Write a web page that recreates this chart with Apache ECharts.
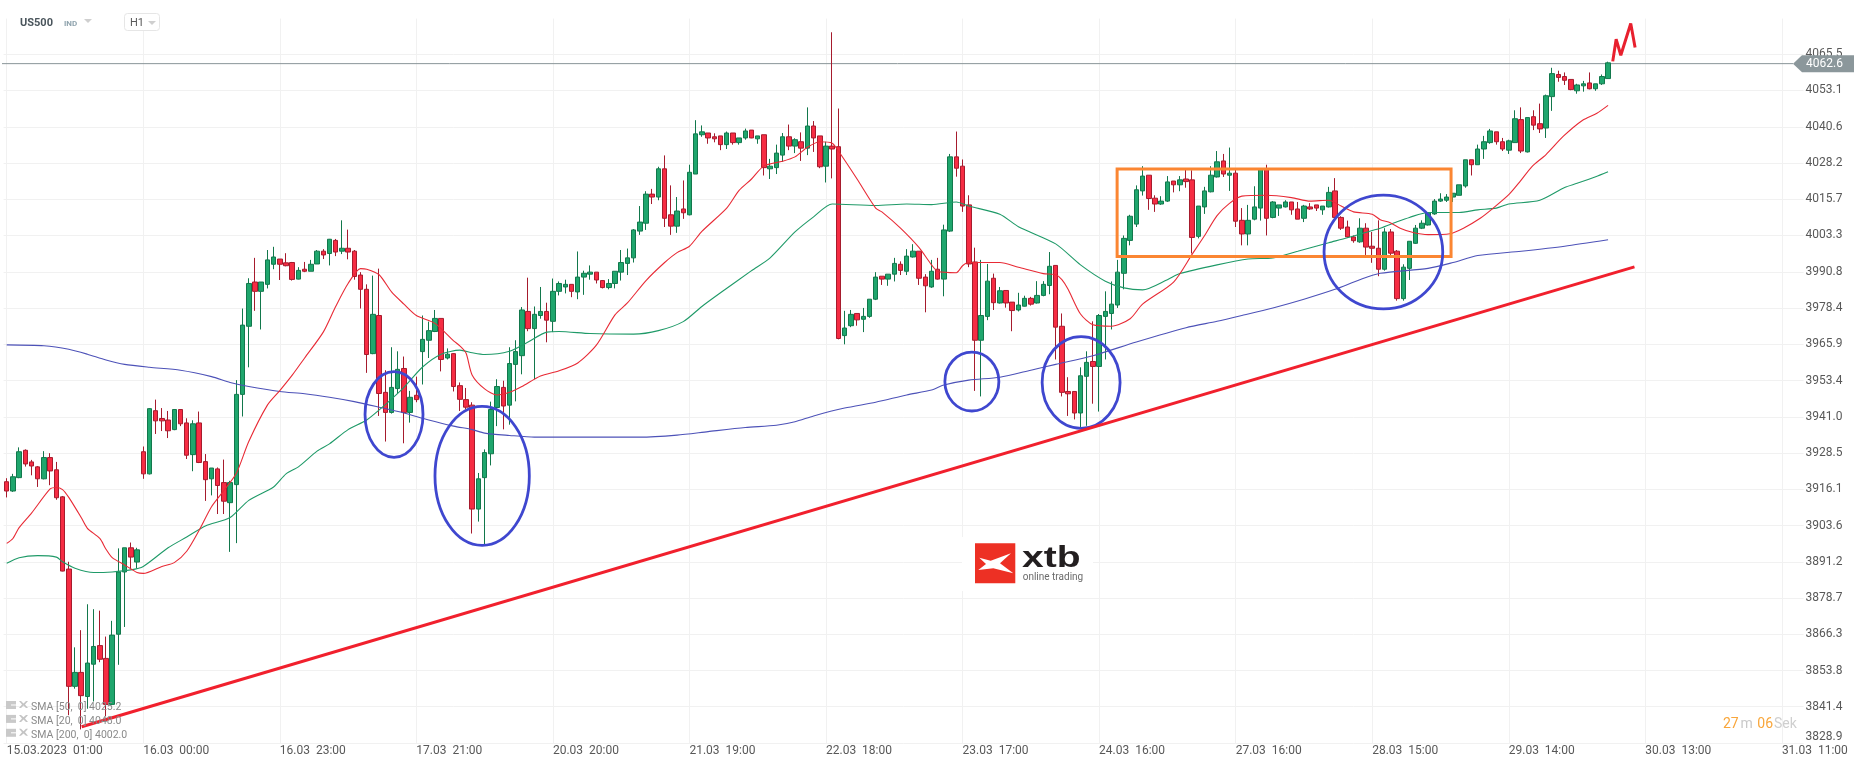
<!DOCTYPE html>
<html><head><meta charset="utf-8"><style>html,body{margin:0;padding:0;background:#fff}#c{width:1866px;height:767px}</style>
<script src="https://cdn.jsdelivr.net/npm/echarts@6/dist/echarts.min.js"></script></head><body><div id="c"></div>
<script>
// open, close, low, high – one row per hourly candle
const candles=[
[3918.7,3915.5,3913.3,3919.9],[3915.5,3920.4,3915.2,3921.4],[3920.1,3929.0,3919.9,3930.5],[3929.5,3924.8,3923.9,3929.8],[3925.5,3924.1,3920.9,3926.2],[3923.8,3919.7,3916.9,3924.1],[3919.7,3927.0,3919.5,3929.2],[3927.0,3922.4,3917.5,3928.5],[3922.8,3913.2,3912.5,3925.5],[3913.5,3888.0,3887.9,3913.8],
[3888.7,3848.4,3838.5,3891.2],[3848.4,3853.2,3847.6,3861.8],[3853.2,3845.2,3833.6,3867.7],[3844.9,3856.4,3840.7,3876.6],[3856.0,3862.1,3843.2,3874.9],[3862.4,3857.7,3856.7,3874.4],[3858.0,3842.2,3838.2,3865.5],[3842.2,3866.0,3841.9,3870.9],[3866.3,3887.7,3855.8,3895.8],[3887.7,3896.0,3868.8,3896.0],
[3896.0,3892.8,3888.7,3897.8],[3891.1,3895.3,3888.9,3896.0],[3929.0,3921.4,3919.7,3930.8],[3921.4,3943.8,3921.2,3944.0],[3943.1,3939.6,3935.1,3946.9],[3940.4,3939.6,3936.1,3944.0],[3939.9,3936.2,3933.7,3943.0],[3936.6,3943.5,3936.4,3943.5],[3943.5,3938.6,3937.8,3943.5],[3938.9,3927.8,3926.5,3940.5],
[3928.0,3938.6,3922.3,3939.8],[3938.9,3925.3,3925.1,3942.8],[3925.6,3919.4,3912.1,3928.2],[3919.7,3923.4,3914.0,3923.4],[3923.1,3917.4,3907.6,3923.6],[3918.4,3912.0,3907.6,3926.3],[3911.5,3918.4,3894.6,3919.0],[3917.7,3948.7,3897.6,3953.6],[3948.7,3972.5,3941.1,3978.2],[3972.1,3986.8,3958.0,3988.6],
[3987.3,3984.1,3977.4,3995.6],[3984.1,3987.3,3971.0,3987.3],[3986.5,3994.9,3985.1,3998.3],[3993.4,3995.9,3991.7,3999.4],[3995.2,3993.4,3988.0,3995.2],[3993.9,3992.9,3992.7,3997.2],[3994.0,3988.2,3987.8,3994.2],[3988.3,3991.3,3988.2,3992.4],[3991.7,3991.0,3990.7,3994.2],[3991.0,3993.4,3991.0,3994.9],
[3993.5,3997.9,3993.5,3998.3],[3997.9,3996.6,3995.2,3998.6],[3997.1,4002.0,3993.0,4002.1],[4001.6,3997.6,3996.2,4002.1],[3997.9,3998.9,3996.9,4008.5],[3998.9,3997.6,3995.1,4005.3],[3997.9,3989.2,3988.1,3998.3],[3989.7,3984.8,3978.2,3990.7],[3984.8,3962.4,3956.1,3986.5],[3962.7,3976.2,3962.5,3989.5],
[3975.8,3949.0,3941.3,3991.9],[3949.4,3942.5,3932.5,3957.0],[3942.5,3951.1,3942.1,3964.9],[3950.7,3957.3,3948.9,3963.5],[3957.6,3942.5,3931.9,3961.7],[3942.5,3947.7,3939.0,3949.9],[3948.4,3946.9,3946.0,3954.8],[3963.4,3967.6,3952.1,3975.8],[3967.3,3970.6,3961.2,3973.7],[3970.3,3974.8,3970.1,3977.7],
[3974.8,3960.7,3956.6,3974.8],[3961.2,3962.5,3960.7,3964.5],[3962.7,3951.4,3949.7,3962.9],[3951.7,3947.0,3943.0,3952.8],[3946.9,3944.3,3943.5,3950.9],[3945.0,3909.3,3900.9,3946.0],[3909.3,3919.7,3905.0,3921.7],[3920.1,3928.7,3896.8,3929.8],[3928.3,3943.5,3924.3,3946.2],[3944.2,3951.4,3937.8,3953.9],
[3951.1,3944.7,3936.7,3953.4],[3945.0,3959.3,3938.3,3964.9],[3959.0,3963.4,3946.3,3967.3],[3962.0,3977.7,3955.6,3978.7],[3977.2,3971.3,3970.4,3988.8],[3971.3,3976.2,3953.9,3978.9],[3975.8,3977.2,3974.7,3985.6],[3977.2,3974.2,3966.6,3980.2],[3973.8,3984.1,3970.1,3988.5],[3984.1,3986.8,3982.7,3987.5],
[3985.6,3986.5,3983.4,3988.1],[3986.5,3984.1,3982.1,3986.5],[3983.9,3989.0,3981.4,3997.8],[3989.0,3990.3,3982.9,3991.2],[3990.0,3990.7,3988.1,3993.0],[3990.7,3988.0,3986.8,3990.7],[3987.8,3985.4,3985.1,3988.0],[3985.4,3986.8,3984.8,3988.3],[3986.8,3991.0,3985.1,3991.0],[3990.7,3994.0,3987.8,3998.3],
[3993.7,3995.6,3989.7,3998.8],[3995.6,4005.2,3994.0,4005.5],[4004.8,4007.9,4003.5,4013.4],[4007.5,4017.5,4005.2,4018.5],[4017.5,4016.5,4014.1,4019.3],[4016.5,4026.2,4015.4,4026.9],[4026.2,4009.2,4006.2,4030.8],[4010.4,4006.5,4003.5,4020.5],[4006.5,4011.7,4004.2,4016.5],[4012.4,4011.1,4009.0,4022.2],
[4010.4,4025.0,4010.2,4027.6],[4024.4,4038.2,4024.4,4042.9],[4037.9,4038.9,4037.2,4041.1],[4038.5,4036.8,4034.8,4038.5],[4037.2,4036.5,4035.3,4038.4],[4037.5,4034.5,4032.6,4037.5],[4034.5,4038.5,4033.0,4039.0],[4038.5,4035.2,4034.5,4038.5],[4035.2,4036.8,4034.5,4036.8],[4036.8,4039.2,4036.2,4040.0],
[4039.5,4036.8,4036.7,4039.5],[4036.5,4037.5,4034.8,4037.5],[4037.9,4026.6,4023.9,4037.9],[4026.2,4027.1,4022.7,4029.6],[4026.6,4031.6,4024.4,4034.5],[4030.9,4037.2,4028.6,4038.5],[4037.2,4034.0,4032.6,4041.4],[4034.0,4036.2,4031.6,4036.7],[4035.5,4033.3,4028.9,4038.7],[4033.3,4040.9,4030.9,4047.3],
[4040.9,4036.8,4032.0,4042.6],[4037.5,4026.9,4026.4,4037.5],[4027.1,4034.0,4021.5,4035.5],[4034.0,4033.0,4022.9,4073.1],[4033.8,3967.9,3967.6,4046.9],[3968.9,3971.5,3965.9,3977.4],[3972.3,3976.2,3971.8,3977.7],[3976.5,3974.3,3972.3,3976.5],[3974.5,3975.5,3970.1,3978.4],[3975.5,3981.4,3975.0,3981.4],
[3981.4,3989.0,3981.1,3990.7],[3989.3,3988.3,3986.3,3989.3],[3988.3,3990.0,3986.0,3990.0],[3990.0,3993.7,3987.5,3995.6],[3993.4,3991.3,3989.7,3994.4],[3991.0,3996.2,3989.7,3998.6],[3995.9,3997.9,3995.7,4000.3],[3997.9,3988.6,3986.3,3997.9],[3989.0,3986.0,3976.9,3990.0],[3985.6,3991.0,3985.3,3994.9],
[3991.7,3988.3,3988.1,3995.6],[3988.3,4005.2,3982.4,4007.0],[4004.8,4030.3,4004.5,4031.3],[4030.3,4026.4,4023.5,4039.0],[4027.1,4013.4,4011.4,4029.4],[4013.8,3993.5,3992.4,4017.1],[3994.2,3967.3,3949.9,3999.1],[3967.3,3975.8,3948.0,3994.9],[3975.5,3987.6,3974.2,3993.5],[3988.6,3980.2,3977.7,3990.2],
[3980.1,3984.3,3979.9,3985.6],[3984.4,3980.1,3978.5,3984.4],[3980.4,3977.5,3970.4,3980.4],[3977.7,3979.4,3977.2,3983.6],[3979.0,3981.7,3978.9,3982.6],[3981.7,3979.7,3979.2,3982.2],[3980.1,3982.7,3979.9,3987.6],[3982.7,3986.5,3982.4,3987.6],[3986.1,3992.7,3983.1,3997.6],[3993.0,3971.8,3960.7,3993.0],
[3972.1,3949.4,3948.0,3976.5],[3949.7,3948.9,3941.3,3954.6],[3949.7,3942.3,3940.1,3949.7],[3942.3,3955.1,3937.3,3958.0],[3954.9,3959.7,3937.9,3963.5],[3960.0,3958.3,3945.5,3973.8],[3958.3,3975.8,3942.8,3976.3],[3975.5,3977.2,3960.7,3984.1],[3976.5,3979.7,3971.0,3987.5],[3979.4,3990.7,3978.4,3994.9],
[3990.3,4002.3,3984.8,4003.3],[4001.6,4009.9,3999.9,4010.4],[4007.2,4019.0,4006.2,4020.5],[4018.6,4023.7,4017.0,4027.1],[4024.0,4016.0,4012.1,4024.0],[4016.1,4014.1,4011.4,4017.1],[4014.1,4015.1,4013.8,4016.8],[4015.1,4021.7,4014.8,4023.7],[4022.0,4020.7,4018.1,4022.0],[4020.7,4022.4,4018.5,4023.7],
[4022.7,4021.8,4019.7,4026.0],[4022.4,4002.6,3997.1,4025.7],[4003.0,4013.4,4002.3,4013.4],[4013.1,4018.6,4010.7,4020.0],[4018.3,4024.0,4018.1,4027.1],[4023.4,4028.6,4023.2,4032.3],[4028.9,4024.4,4023.4,4031.3],[4024.0,4024.7,4018.6,4033.5],[4024.7,4008.2,4006.2,4026.1],[4008.5,4003.8,3999.9,4012.7],
[4003.8,4008.5,3999.9,4013.8],[4008.9,4013.1,4008.5,4020.2],[4012.7,4026.1,4008.4,4026.1],[4026.1,4009.2,4003.3,4027.6],[4009.5,4014.8,4009.2,4015.1],[4012.7,4013.8,4010.0,4013.8],[4013.1,4014.8,4012.9,4015.4],[4014.8,4012.1,4010.4,4014.8],[4012.4,4008.9,4008.9,4014.8],[4009.2,4013.4,4007.9,4013.8],
[4013.1,4012.4,4012.1,4014.4],[4013.8,4012.7,4011.7,4013.8],[4012.1,4013.4,4010.4,4013.4],[4013.1,4018.1,4012.9,4020.0],[4018.6,4009.5,4009.2,4023.0],[4009.5,4005.8,4005.2,4009.9],[4006.2,4002.8,4002.5,4008.4],[4002.8,4001.5,4000.8,4003.3],[4001.1,4005.8,4000.8,4009.2],[4005.8,3999.3,3996.6,4007.5],
[3999.6,3998.9,3993.9,4004.5],[3998.9,3991.7,3989.3,4008.5],[3991.7,4004.5,3991.2,4005.8],[4004.5,3997.2,3996.2,4005.5],[3997.9,3981.6,3980.9,3998.3],[3981.6,3992.4,3980.9,3993.4],[3992.0,4001.3,3988.0,4001.3],[4000.6,4005.8,4000.4,4006.9],[4005.8,4007.5,4005.5,4008.5],[4006.9,4011.1,4006.7,4011.1],
[4010.7,4015.1,4010.4,4015.8],[4015.1,4015.8,4014.8,4017.8],[4015.4,4016.5,4014.8,4017.5],[4016.5,4017.8,4014.8,4017.8],[4017.1,4020.7,4017.1,4020.7],[4020.3,4029.3,4019.7,4029.3],[4029.3,4027.6,4023.9,4029.3],[4027.6,4033.0,4027.6,4034.5],[4033.0,4035.5,4029.6,4037.5],[4035.2,4039.2,4034.8,4039.9],
[4038.9,4035.5,4034.5,4038.9],[4035.5,4033.0,4032.3,4036.8],[4032.6,4035.8,4031.3,4036.2],[4035.2,4043.4,4035.2,4046.3],[4043.1,4032.3,4031.6,4047.3],[4032.0,4043.8,4031.8,4043.8],[4044.1,4041.2,4039.5,4046.3],[4041.7,4039.9,4038.5,4048.6],[4040.2,4051.3,4036.8,4051.7],[4051.0,4058.9,4046.1,4060.9],
[4058.6,4057.6,4056.1,4059.9],[4057.9,4056.6,4055.0,4059.3],[4056.9,4053.4,4053.2,4056.9],[4053.0,4055.0,4052.0,4055.4],[4054.7,4055.4,4052.7,4056.4],[4055.7,4053.7,4053.5,4059.3],[4053.7,4055.4,4053.0,4055.4],[4055.4,4057.9,4055.0,4058.6],[4057.2,4062.6,4057.1,4063.0]
];
const sma20=[[0,3897.5],[1,3899.2],[2,3902.9],[4,3907.9],[7,3916.2],[8,3916.7],[9,3916.0],[10,3913.3],[12,3906.4],[13,3902.7],[15,3899.2],[16,3895.5],[17,3892.6],[19,3890.1],[21,3887.5],[22,3887.2],[25,3889.6],[27,3890.9],[29,3894.8],[31,3902.0],[33,3910.1],[35,3915.7],[37,3921.6],[39,3932.5],[42,3945.0],[44,3950.0],[46,3955.3],[48,3961.2],[51,3970.1],[53,3978.9],[55,3986.8],[57,3991.9],[58,3991.7],[60,3989.8],[62,3983.9],[64,3979.7],[66,3975.8],[69,3973.1],[72,3967.1],[73,3965.4],[74,3962.9],[75,3955.3],[77,3950.6],[79,3948.5],[81,3949.4],[83,3951.4],[86,3955.0],[89,3956.8],[92,3959.5],[95,3965.6],[98,3976.0],[100,3980.1],[103,3987.8],[106,3994.0],[108,3997.4],[110,3999.6],[112,4004.7],[116,4012.7],[118,4018.8],[120,4022.7],[122,4027.2],[125,4028.8],[127,4030.3],[129,4033.6],[131,4035.5],[133,4035.0],[134,4032.3],[137,4022.7],[140,4012.7],[141,4011.4],[144,4005.8],[147,3999.1],[149,3993.2],[150,3991.0],[153,3990.5],[154,3992.9],[155,3994.0],[160,3994.0],[163,3992.4],[167,3990.2],[169,3989.8],[170,3988.1],[171,3984.8],[173,3976.3],[175,3972.6],[178,3972.1],[181,3974.7],[183,3979.7],[188,3987.3],[191,3996.9],[193,4003.3],[195,4010.1],[197,4014.3],[199,4016.8],[203,4017.1],[207,4016.3],[210,4015.1],[213,4015.4],[215,4013.4],[217,4011.4],[220,4010.6],[221.3,4008.7],[222.9,4007.7],[224.5,4005.8],[226.6,4004.3],[229,4003.6],[232.5,4003.9],[234.7,4005.8],[237.4,4009.2],[239.5,4012.7],[242,4017.3],[243.8,4021.8],[245.7,4026.9],[248,4031.1],[250.8,4037.4],[253.9,4042.9],[256.2,4045.3],[258,4048.0]];
const sma50=[[0,3890.7],[2,3892.6],[5,3893.3],[8,3892.8],[9,3891.2],[11,3889.0],[14,3887.5],[17,3887.7],[20,3888.4],[22,3889.6],[26,3896.0],[29,3899.7],[32,3903.5],[36,3906.4],[39,3912.3],[43,3916.9],[45,3921.4],[47,3923.8],[50,3929.2],[52,3931.7],[55,3936.6],[58,3939.9],[61,3945.2],[64,3951.1],[67,3958.1],[70,3962.5],[73,3963.9],[75,3963.0],[77,3962.4],[81,3963.5],[84,3966.7],[87,3970.1],[89,3970.3],[94,3969.6],[101,3969.4],[105,3970.6],[109,3973.7],[112,3978.9],[115,3983.6],[120,3991.2],[123,3995.6],[127,4004.5],[130,4009.7],[133,4014.1],[140,4013.6],[145,4014.1],[149,4013.9],[153,4014.8],[155,4013.4],[160,4010.6],[163,4006.3],[169,4000.4],[173,3993.2],[177,3987.6],[180,3985.3],[183,3984.6],[187,3988.1],[189,3990.2],[195,3993.2],[200,3995.2],[204,3995.6],[208,3997.9],[213,4000.8],[216,4002.5],[220,4005.0],[221.3,4005.8],[224,4008.0],[226,4009.5],[229,4011.2],[234,4011.2],[237,4012.1],[240,4012.7],[242,4014.1],[247,4015.4],[251,4019.8],[253,4021.2],[256,4023.5],[258,4025.2]];
const sma200=[[0,3965.7],[6,3965.4],[10,3964.2],[13,3962.5],[16,3960.5],[19,3959.0],[23,3958.0],[28,3957.0],[33,3954.8],[36,3952.8],[39,3951.4],[44,3949.7],[48,3948.9],[52,3947.7],[56,3946.2],[60,3944.3],[64,3942.3],[68,3939.9],[72,3937.8],[75,3936.6],[77,3935.4],[81,3934.6],[85,3934.0],[94,3934.0],[102,3934.0],[108,3934.7],[113,3935.9],[119,3937.3],[124,3938.1],[127,3939.3],[130,3941.3],[135,3944.0],[140,3946.0],[145,3948.5],[149,3950.2],[151,3951.9],[155,3953.6],[160,3954.6],[165,3957.0],[169,3959.0],[175,3962.0],[182,3966.7],[190,3971.6],[195,3973.8],[199,3975.8],[204,3978.4],[209,3981.4],[214,3984.8],[218,3988.1],[221.3,3990.3],[229,3992.0],[233,3994.0],[237,3996.4],[244,3997.9],[251,3999.6],[258,4001.8]];
const xTickLabels=['15.03.2023  01:00','16.03  00:00','16.03  23:00','17.03  21:00','20.03  20:00','21.03  19:00','22.03  18:00','23.03  17:00','24.03  16:00','27.03  16:00','28.03  15:00','29.03  14:00','30.03  13:00','31.03  11:00'];
const yTicks=[3828.9,3841.4,3853.8,3866.3,3878.7,3891.2,3903.6,3916.1,3928.5,3941.0,3953.4,3965.9,3978.4,3990.8,4003.3,4015.7,4028.2,4040.6,4053.1,4065.5];
const slotCount=290, candlesPerTick=22, lastPrice=4062.6;
const categories=Array.from({length:slotCount},(_,i)=>String(i));
const trendLine=[[12.08,3834.5],[262.25,3992.5]];
const handArrow=[[258.75,4063.1],[259.3,4070.7],[260.05,4065.2],[261.65,4076.1],[262.35,4067.9]];
const orangeBox=[[178.9,4026.1,232.7,3996.1]];
const blueEllipses=[[62.4,3941.8,4.67,14.75],[76.6,3920.7,7.6,23.85],[155.5,3953.1,4.35,10.1],[173.1,3952.8,6.28,15.76],[221.8,3997.6,9.56,19.55]];
const legendRows=['SMA [50,  0] 4025.2','SMA [20,  0] 4048.0','SMA [200,  0] 4002.0'];

const FF='Roboto';
const chart=echarts.init(document.getElementById('c'),null,{renderer:'canvas'});
const lineSeries=(data,color,z)=>({type:'line',xAxisIndex:1,yAxisIndex:0,data,showSymbol:false,symbol:'none',smooth:0.25,silent:true,z,lineStyle:{color,width:1.1},animation:false});
chart.setOption({
 animation:false,backgroundColor:'#fff',
 grid:{left:3.6,top:18.6,width:1800,height:724.5,containLabel:false},
 xAxis:[
  {type:'category',data:categories,boundaryGap:true,position:'bottom',
   axisLine:{show:false},axisTick:{show:false},
   splitLine:{show:true,interval:candlesPerTick-1,alignWithLabel:true,lineStyle:{color:'#f1f1f1',width:1}},
   axisLabel:{interval:candlesPerTick-1,align:'left',margin:2,color:'#585858',fontFamily:FF,fontSize:12,hideOverlap:false,
     formatter:(v,i)=>xTickLabels[i/candlesPerTick]||''}},
  {type:'value',min:-0.5,max:slotCount-0.5,show:false,splitLine:{show:false}}
 ],
 yAxis:[{type:'value',position:'right',min:3828.9,max:4077.8,scale:true,
   axisLine:{show:false},axisTick:{show:false,customValues:yTicks},
   splitLine:{show:true,lineStyle:{color:'#f1f1f1',width:1}},
   axisLabel:{customValues:yTicks,margin:2,padding:[3,0,0,0],color:'#585858',fontFamily:FF,fontSize:12,verticalAlignMinLabel:'bottom',formatter:v=>v.toFixed(1)}}],
 series:[
  {type:'candlestick',xAxisIndex:0,yAxisIndex:0,data:candles,barWidth:5,z:3,silent:true,
   itemStyle:{color:'#1fa66d',color0:'#f62c43',borderColor:'#12784c',borderColor0:'#a61b2d',borderWidth:1,borderColorDoji:'#12784c'}},
  lineSeries(sma200,'#4d52b8',4),lineSeries(sma50,'#1f9a68',4),lineSeries(sma20,'#e82a35',4),
  {type:'line',xAxisIndex:1,yAxisIndex:0,data:trendLine,symbol:'none',z:6,silent:true,lineStyle:{color:'#f1202d',width:3}},
  {type:'line',xAxisIndex:1,yAxisIndex:0,data:handArrow,symbol:'none',z:6,silent:true,lineStyle:{color:'#e8202e',width:3}},
  {type:'custom',xAxisIndex:1,yAxisIndex:0,data:orangeBox,z:5,silent:true,clip:false,
   renderItem:(p,api)=>{const a=api.coord([api.value(0),api.value(1)]),b=api.coord([api.value(2),api.value(3)]);
    return {type:'rect',shape:{x:a[0],y:a[1],width:b[0]-a[0],height:b[1]-a[1]},style:{fill:'none',stroke:'#fb8632',lineWidth:3}};}},
  {type:'custom',xAxisIndex:1,yAxisIndex:0,data:blueEllipses,z:5,silent:true,clip:false,
   renderItem:(p,api)=>{const c=api.coord([api.value(0),api.value(1)]),e=api.coord([api.value(0)+api.value(2),api.value(1)+api.value(3)]);
    return {type:'ellipse',shape:{cx:c[0],cy:c[1],rx:e[0]-c[0],ry:c[1]-e[1]},style:{fill:'none',stroke:'#3f47cf',lineWidth:2.8}};}}
 ]
});
const y=chart.convertToPixel({yAxisIndex:0},lastPrice)+0.8;
const text=(x,yy,t,size,color,extra={},over={})=>Object.assign({type:'text',x,y:yy,z:100,silent:true,style:Object.assign({text:t,fontFamily:FF,fontSize:size,fill:color,verticalAlign:'middle'},extra)},over);
const tri=(x,yy)=>({type:'polygon',z:100,silent:true,shape:{points:[[x,yy],[x+8,yy],[x+4,yy+4]]},style:{fill:'#cfcfcf'}});
const gfx=[
 {type:'line',z:2,silent:true,shape:{x1:2,y1:y,x2:1793,y2:y},style:{stroke:'#8a9599',lineWidth:1}},
 {type:'polygon',z:100,silent:true,shape:{points:[[1793,y],[1802,y-8.5],[1854,y-8.5],[1854,y+8.5],[1802,y+8.5]]},style:{fill:'#8b979b'}},
 text(1806,y,lastPrice.toFixed(1),12,'#ffffff'),
 text(20,23,'US500',11,'#4a555c',{fontWeight:'bold'}),
 text(64,23.5,'IND',8,'#90a4ae',{fontWeight:'bold'}),
 tri(84,19),
 {type:'rect',z:100,silent:true,shape:{x:124.5,y:13.5,width:35,height:17,r:3},style:{fill:'#fff',stroke:'#e6e6e6',lineWidth:1}},
 text(130,23.5,'H1',11,'#5a5a5a'),
 tri(148,21),
 {type:'rect',z:50,silent:true,shape:{x:962,y:537,width:131,height:54},style:{fill:'#fff'}},
 {type:'rect',z:100,silent:true,shape:{x:975,y:543.3,width:40.3,height:40},style:{fill:'#ed3024'}},
 {type:'polygon',z:101,silent:true,shape:{points:[[979.3,557.7],[990.7,560.7],[1011,553.3],[1000,563.3],[1013.3,573.3],[993.3,568.3],[978.3,570],[986,564]]},style:{fill:'#ffffff'}},
 text(1022,559,'xtb',30,'#231f20',{fontFamily:'Liberation Sans',fontWeight:'bold'},{scaleX:1.3}),
 text(1022.7,577.5,'online trading',10,'#6b6b6b'),
 text(1723,724,'27',14,'#f9a63a'),text(1740.5,724,'m',14,'#c9c9c9'),text(1757.3,724,'06',14,'#f9a63a'),text(1774,724,'Sek',14,'#cfcfcf')
];
legendRows.forEach((t,k)=>{const yy=708+k*13.9;
 gfx.push({type:'rect',z:100,silent:true,shape:{x:6,y:yy-7,width:10,height:8},style:{fill:'#c9c9c9'}});
 gfx.push({type:'line',z:101,silent:true,shape:{x1:11,y1:yy-3,x2:16,y2:yy-3},style:{stroke:'#fff',lineWidth:1}});
 gfx.push({type:'polygon',z:100,silent:true,shape:{points:[[19,yy-7],[21,yy-7],[23.5,yy-4.6],[26,yy-7],[28,yy-7],[25,yy-3.5],[28,yy],[26,yy],[23.5,yy-2.4],[21,yy],[19,yy],[22,yy-3.5]]},style:{fill:'#c4c4c4'}});
 gfx.push(text(31,yy-0.5,t,10.5,'#8a8a8a'));
});
chart.setOption({graphic:gfx});
</script></body></html>
